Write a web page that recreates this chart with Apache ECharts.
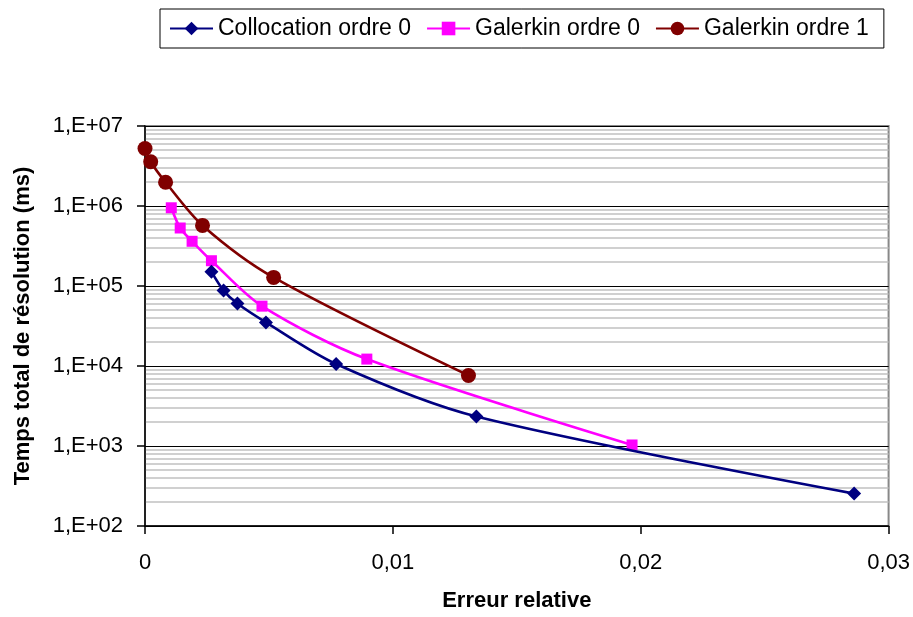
<!DOCTYPE html>
<html><head><meta charset="utf-8">
<script src="https://cdn.jsdelivr.net/npm/echarts@6/dist/echarts.min.js"></script>
<style>html,body{margin:0;padding:0;background:#fff}#c{width:913px;height:617px}</style>
</head><body><div id="c"></div>
<script>
const seriesNames = ['Collocation ordre 0', 'Galerkin ordre 0', 'Galerkin ordre 1'];
const collocX = [0.00268, 0.00317, 0.00373, 0.00488, 0.00771, 0.01337, 0.02861];
const collocY = [151000, 87700, 60400, 35100, 10600, 2340, 254];
const galerkin0X = [0.00106, 0.00142, 0.00190, 0.00268, 0.00472, 0.00895, 0.01965];
const galerkin0Y = [950000, 531000, 362000, 207000, 56000, 12200, 1030];
const galerkin1X = [0.0000, 0.00023, 0.00083, 0.00232, 0.00519, 0.01305];
const galerkin1Y = [5240000, 3570000, 1980000, 572000, 128000, 7620];
const xTicks = [0, 0.01, 0.02, 0.03];
const minorGrid = [];
for (let e = 2; e < 7; e++) for (let m = 2; m <= 9; m++) minorGrid.push(m * Math.pow(10, e));

const zip = (xs, ys) => xs.map((x, i) => [x, ys[i]]);
const font = 'Arial, "Liberation Sans", sans-serif';

const chart = echarts.init(document.getElementById('c'), null, {renderer: 'canvas'});
chart.setOption({
  animation: false,
  backgroundColor: '#fff',
  grid: {left: 145, right: 24, top: 126, bottom: 89, show: true, borderColor: '#888', borderWidth: 2, backgroundColor: 'transparent'},
  legend: {
    left: 160, top: 9, padding: [8, 15, 8, 9],
    borderColor: '#000', borderWidth: 1, itemGap: 15,
    itemWidth: 43, itemHeight: 17,
    textStyle: {fontFamily: font, fontSize: 23, color: '#000'},
    data: seriesNames
  },
  xAxis: {
    type: 'value', min: xTicks[0], max: xTicks[xTicks.length - 1], interval: 0.01,
    axisLine: {lineStyle: {color: '#000', width: 1.5}},
    axisTick: {show: true, length: 8, lineStyle: {color: '#000', width: 1.5}},
    axisLabel: {fontFamily: font, fontSize: 22, color: '#000', margin: 26,
      formatter: v => v === 0 ? '0' : v.toFixed(2).replace('.', ',')},
    splitLine: {show: false},
    name: 'Erreur relative', nameLocation: 'middle', nameGap: 64,
    nameTextStyle: {fontFamily: font, fontSize: 22, fontWeight: 'bold', color: '#000'}
  },
  yAxis: {
    type: 'log', logBase: 10, min: 100, max: 1e7,
    axisLine: {show: true, lineStyle: {color: '#000', width: 1.5}},
    axisTick: {show: true, length: 8, lineStyle: {color: '#000', width: 1.5}},
    axisLabel: {fontFamily: font, fontSize: 22, color: '#000', margin: 22,
      formatter: v => { const e = Math.round(Math.log10(v)); return '1,E+' + (e < 10 ? '0' : '') + e; }},
    splitLine: {show: true, lineStyle: {color: '#000', width: 1.2}},
    name: 'Temps total de résolution (ms)', nameLocation: 'middle', nameGap: 111, nameRotate: 90,
    nameTextStyle: {fontFamily: font, fontSize: 22, fontWeight: 'bold', color: '#000'}
  },
  series: [
    {
      name: '__grid', type: 'line', data: [], silent: true, z: 0,
      markLine: {silent: true, z: 0, symbol: 'none', label: {show: false},
        lineStyle: {color: '#c0c0c0', width: 1.6, type: 'solid'},
        data: minorGrid.map(v => ({yAxis: v}))}
    },
    {
      name: seriesNames[0], type: 'line', data: zip(collocX, collocY), smooth: 0.3,
      symbol: 'diamond', symbolSize: 14, color: '#000080',
      lineStyle: {width: 2.6, color: '#000080'}, itemStyle: {color: '#000080'}, z: 12
    },
    {
      name: seriesNames[1], type: 'line', data: zip(galerkin0X, galerkin0Y), smooth: 0.3,
      symbol: 'rect', symbolSize: 11, color: '#ff00ff',
      lineStyle: {width: 2.6, color: '#ff00ff'}, itemStyle: {color: '#ff00ff'}, z: 11
    },
    {
      name: seriesNames[2], type: 'line', data: zip(galerkin1X, galerkin1Y), smooth: 0.3,
      symbol: 'circle', symbolSize: 15, color: '#800000',
      lineStyle: {width: 2.6, color: '#800000'}, itemStyle: {color: '#800000'}, z: 10
    }
  ]
});
</script></body></html>
